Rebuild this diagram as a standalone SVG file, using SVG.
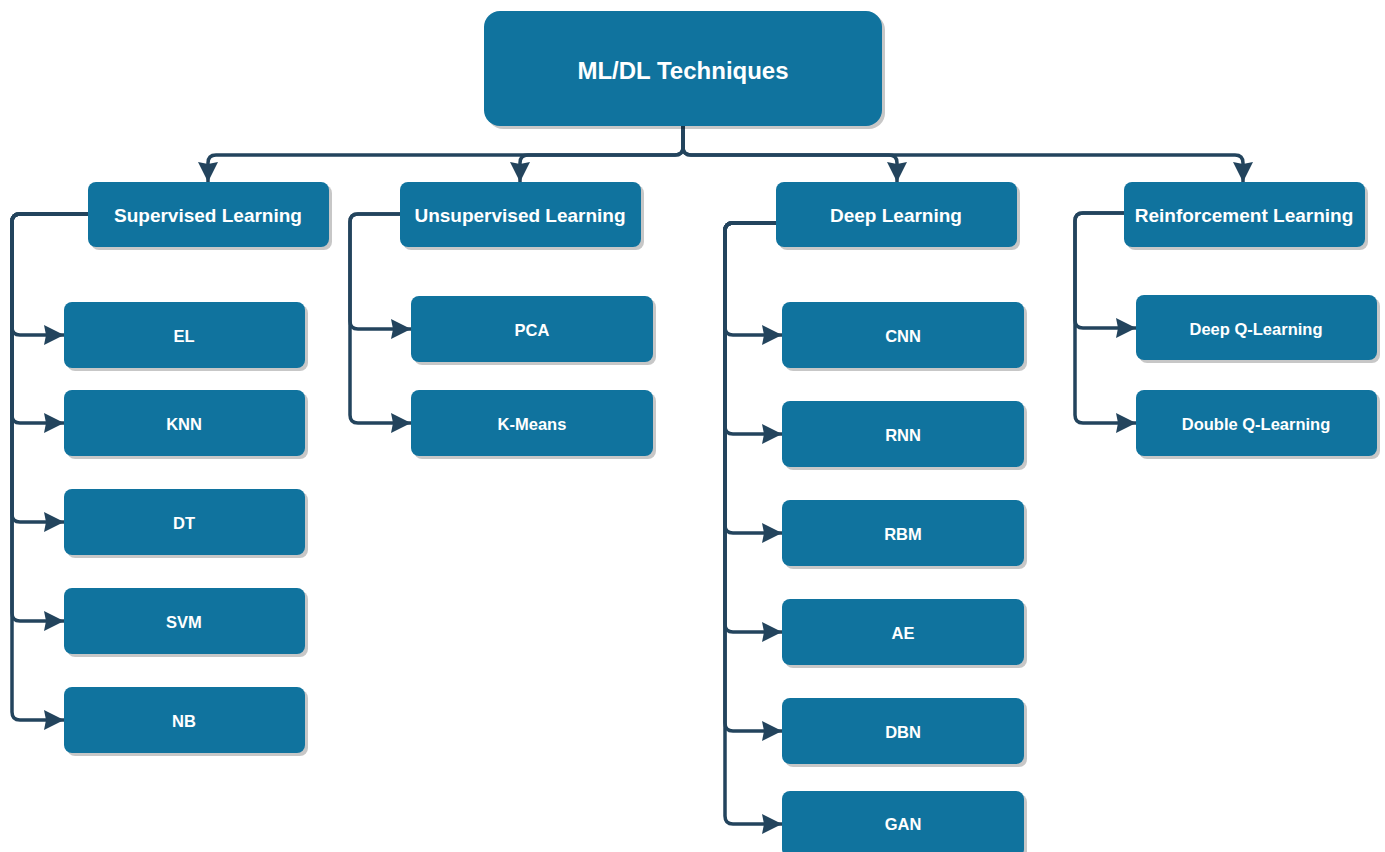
<svg xmlns="http://www.w3.org/2000/svg" width="1385" height="852" viewBox="0 0 1385 852">
<style>
.box{fill:#10739E;}
.sh{fill:#000;opacity:0.22;}
.t{font-family:"Liberation Sans",Arial,sans-serif;font-weight:bold;fill:#ffffff;text-anchor:middle;dominant-baseline:central;}
.t0{font-size:24px;}
.t1{font-size:19px;}
.t2{font-size:16.5px;}
.c{fill:none;stroke:#23445D;stroke-width:3.5;marker-end:url(#arr);}
</style>
<defs>
<marker id="arr" markerUnits="userSpaceOnUse" markerWidth="24" markerHeight="22" refX="20" refY="10" orient="auto" overflow="visible">
<path d="M0,0 L20,10 L0,20 L2,10 Z" fill="#23445D"/>
</marker>
</defs>
<rect width="1385" height="852" fill="#ffffff"/>
<g id="connectors">
<path class="c" d="M683,121 V147 Q683,155 675,155 H216 Q208,155 208,163 V182"/>
<path class="c" d="M683,121 V147 Q683,155 675,155 H528 Q520,155 520,163 V182"/>
<path class="c" d="M683,121 V147 Q683,155 691,155 H889 Q897,155 897,163 V182"/>
<path class="c" d="M683,121 V147 Q683,155 691,155 H1235 Q1243,155 1243,163 V182"/>

<path class="c" d="M88,214 H20 Q12,214 12,222 V327 Q12,335 20,335 H64"/>
<path class="c" d="M88,214 H20 Q12,214 12,222 V415 Q12,423 20,423 H64"/>
<path class="c" d="M88,214 H20 Q12,214 12,222 V514 Q12,522 20,522 H64"/>
<path class="c" d="M88,214 H20 Q12,214 12,222 V613 Q12,621 20,621 H64"/>
<path class="c" d="M88,214 H20 Q12,214 12,222 V712 Q12,720 20,720 H64"/>

<path class="c" d="M400,214 H358 Q350,214 350,222 V321 Q350,329 358,329 H411"/>
<path class="c" d="M400,214 H358 Q350,214 350,222 V415 Q350,423 358,423 H411"/>

<path class="c" d="M776,223 H733 Q725,223 725,231 V327 Q725,335 733,335 H782"/>
<path class="c" d="M776,223 H733 Q725,223 725,231 V426 Q725,434 733,434 H782"/>
<path class="c" d="M776,223 H733 Q725,223 725,231 V525 Q725,533 733,533 H782"/>
<path class="c" d="M776,223 H733 Q725,223 725,231 V624 Q725,632 733,632 H782"/>
<path class="c" d="M776,223 H733 Q725,223 725,231 V723 Q725,731 733,731 H782"/>
<path class="c" d="M776,223 H733 Q725,223 725,231 V816 Q725,824 733,824 H782"/>

<path class="c" d="M1124,213 H1083 Q1075,213 1075,221 V320 Q1075,328 1083,328 H1136"/>
<path class="c" d="M1124,213 H1083 Q1075,213 1075,221 V415 Q1075,423 1083,423 H1136"/>
</g>

<g id="root">
<rect class="sh" x="487" y="14" width="398" height="115" rx="16"/>
<rect class="box" x="484" y="11" width="398" height="115" rx="16"/>
<text class="t t0" x="683" y="70">ML/DL Techniques</text>
</g>

<g id="supervised">
<rect class="sh" x="91" y="185" width="241" height="65" rx="8"/>
<rect class="box" x="88" y="182" width="241" height="65" rx="8"/>
<text class="t t1" x="208" y="215">Supervised Learning</text>
</g>
<g id="unsupervised">
<rect class="sh" x="403" y="185" width="241" height="65" rx="8"/>
<rect class="box" x="400" y="182" width="241" height="65" rx="8"/>
<text class="t t1" x="520" y="215">Unsupervised Learning</text>
</g>
<g id="deep">
<rect class="sh" x="779" y="185" width="241" height="65" rx="8"/>
<rect class="box" x="776" y="182" width="241" height="65" rx="8"/>
<text class="t t1" x="896" y="215">Deep Learning</text>
</g>
<g id="reinforcement">
<rect class="sh" x="1127" y="185" width="241" height="65" rx="8"/>
<rect class="box" x="1124" y="182" width="241" height="65" rx="8"/>
<text class="t t1" x="1244" y="215">Reinforcement Learning</text>
</g>

<g id="el"><rect class="sh" x="67" y="305" width="241" height="66" rx="8"/><rect class="box" x="64" y="302" width="241" height="66" rx="8"/><text class="t t2" x="184" y="336">EL</text></g>
<g id="knn"><rect class="sh" x="67" y="393" width="241" height="66" rx="8"/><rect class="box" x="64" y="390" width="241" height="66" rx="8"/><text class="t t2" x="184" y="424">KNN</text></g>
<g id="dt"><rect class="sh" x="67" y="492" width="241" height="66" rx="8"/><rect class="box" x="64" y="489" width="241" height="66" rx="8"/><text class="t t2" x="184" y="523">DT</text></g>
<g id="svm"><rect class="sh" x="67" y="591" width="241" height="66" rx="8"/><rect class="box" x="64" y="588" width="241" height="66" rx="8"/><text class="t t2" x="184" y="622">SVM</text></g>
<g id="nb"><rect class="sh" x="67" y="690" width="241" height="66" rx="8"/><rect class="box" x="64" y="687" width="241" height="66" rx="8"/><text class="t t2" x="184" y="721">NB</text></g>

<g id="pca"><rect class="sh" x="414" y="299" width="242" height="66" rx="8"/><rect class="box" x="411" y="296" width="242" height="66" rx="8"/><text class="t t2" x="532" y="330">PCA</text></g>
<g id="kmeans"><rect class="sh" x="414" y="393" width="242" height="66" rx="8"/><rect class="box" x="411" y="390" width="242" height="66" rx="8"/><text class="t t2" x="532" y="424">K-Means</text></g>

<g id="cnn"><rect class="sh" x="785" y="305" width="242" height="66" rx="8"/><rect class="box" x="782" y="302" width="242" height="66" rx="8"/><text class="t t2" x="903" y="336">CNN</text></g>
<g id="rnn"><rect class="sh" x="785" y="404" width="242" height="66" rx="8"/><rect class="box" x="782" y="401" width="242" height="66" rx="8"/><text class="t t2" x="903" y="435">RNN</text></g>
<g id="rbm"><rect class="sh" x="785" y="503" width="242" height="66" rx="8"/><rect class="box" x="782" y="500" width="242" height="66" rx="8"/><text class="t t2" x="903" y="534">RBM</text></g>
<g id="ae"><rect class="sh" x="785" y="602" width="242" height="66" rx="8"/><rect class="box" x="782" y="599" width="242" height="66" rx="8"/><text class="t t2" x="903" y="633">AE</text></g>
<g id="dbn"><rect class="sh" x="785" y="701" width="242" height="66" rx="8"/><rect class="box" x="782" y="698" width="242" height="66" rx="8"/><text class="t t2" x="903" y="732">DBN</text></g>
<g id="gan"><rect class="sh" x="785" y="794" width="242" height="66" rx="8"/><rect class="box" x="782" y="791" width="242" height="66" rx="8"/><text class="t t2" x="903" y="824">GAN</text></g>

<g id="deepq"><rect class="sh" x="1139" y="298" width="241" height="65" rx="8"/><rect class="box" x="1136" y="295" width="241" height="65" rx="8"/><text class="t t2" x="1256" y="329">Deep Q-Learning</text></g>
<g id="doubleq"><rect class="sh" x="1139" y="393" width="241" height="66" rx="8"/><rect class="box" x="1136" y="390" width="241" height="66" rx="8"/><text class="t t2" x="1256" y="424">Double Q-Learning</text></g>
</svg>
